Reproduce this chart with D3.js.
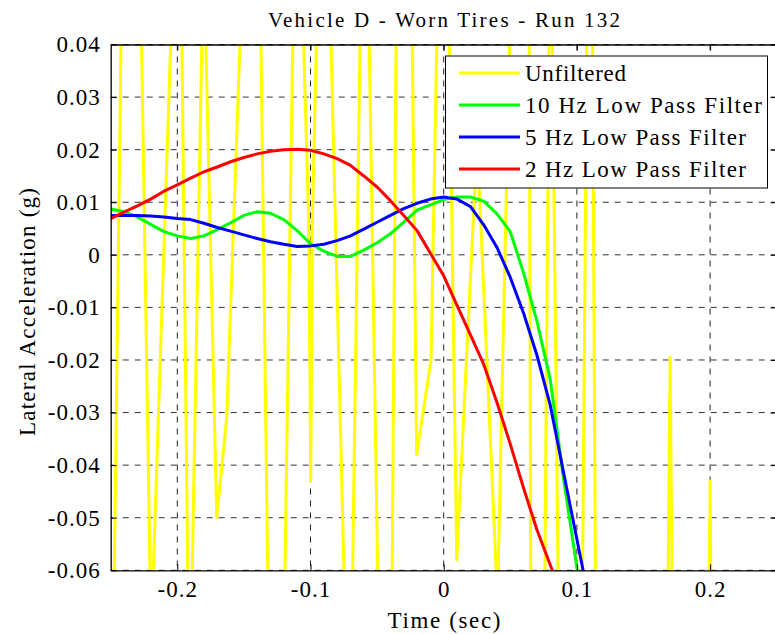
<!DOCTYPE html>
<html>
<head>
<meta charset="utf-8">
<script src="https://cdn.jsdelivr.net/npm/d3@7/dist/d3.min.js"></script>
<style>
body { margin: 0; background: #fff; }
text { font-family: "Liberation Serif", "Times New Roman", serif; fill: #000; }
</style>
</head>
<body>
<div id="the_chart"></div>
<script>
// filtered signals, sampled every 0.01 s
const filterTime = [-0.25,-0.24,-0.23,-0.22,-0.21,-0.20,-0.19,-0.18,-0.17,-0.16,-0.15,-0.14,-0.13,-0.12,-0.11,-0.10,-0.09,-0.08,-0.07,-0.06,-0.05,-0.04,-0.03,-0.02,-0.01,0.00,0.01,0.02,0.03,0.04,0.05,0.06,0.07,0.08,0.09,0.10,0.11];
const lp10 = [0.0087,0.0082,0.0072,0.0058,0.0044,0.0036,0.0031,0.0036,0.0048,0.0061,0.0075,0.0082,0.0079,0.0067,0.0046,0.0021,0.0007,-0.0003,-0.0003,0.0009,0.0023,0.0040,0.0062,0.0085,0.0095,0.0105,0.0110,0.0110,0.0102,0.0078,0.0044,-0.0035,-0.0126,-0.0237,-0.0426,-0.0595,-0.0760];
const lp5 = [0.0075,0.0075,0.0075,0.0074,0.0072,0.0069,0.0067,0.0060,0.0052,0.0045,0.0038,0.0031,0.0025,0.0020,0.0016,0.0017,0.0020,0.0027,0.0036,0.0049,0.0062,0.0075,0.0088,0.0098,0.0106,0.0110,0.0106,0.0092,0.0057,0.0014,-0.0043,-0.0111,-0.0191,-0.0286,-0.0414,-0.0541,-0.0668];
const lp2 = [0.0069,0.0081,0.0093,0.0106,0.0121,0.0133,0.0146,0.0158,0.0167,0.0177,0.0185,0.0192,0.0197,0.0200,0.0201,0.0199,0.0192,0.0183,0.0170,0.0150,0.0129,0.0103,0.0075,0.0046,0.0003,-0.0040,-0.0096,-0.0152,-0.0208,-0.0281,-0.0360,-0.0444,-0.0523,-0.0590,-0.0657,-0.0720,-0.0790];

// unfiltered signal (peaks mostly run off the axes)
const rawTime = [-0.25,-0.2354,-0.2197,-0.1986,-0.1909,-0.1803,-0.1704,-0.1629,-0.1413,-0.1261,-0.1106,-0.1013,-0.0998,-0.0986,-0.0904,-0.0707,-0.0596,-0.0420,-0.0309,-0.0203,-0.0095,0.0000,0.0098,0.0251,0.0404,0.0626,0.0681,0.0801,0.0964,0.1101,0.12,0.13,0.14,0.15,0.16,0.17,0.18,0.19,0.20,0.21,0.22,0.23,0.24,0.25];
const rawVal = [-0.114,0.177,-0.073,0.089,-0.090,0.059,-0.050,-0.031,0.123,-0.181,0.088,0.006,-0.043,0.006,0.100,-0.103,0.099,-0.180,0.215,-0.038,-0.020,0.114,-0.058,0.0217,-0.066,0.194,-0.320,0.075,-0.309,0.123,-0.360,-0.330,-0.290,-0.310,-0.300,-0.0195,-0.320,-0.350,-0.043,-0.380,-0.330,-0.300,-0.310,-0.280];

const seriesNames = ["Unfiltered", "10 Hz Low Pass Filter", "5 Hz Low Pass Filter", "2 Hz Low Pass Filter"];
const seriesColors = ["#ffff00", "#00ff00", "#0000ff", "#ff0000"];

const xTicks = [-0.2, -0.1, 0, 0.1, 0.2];
const xTickLabels = ["-0.2", "-0.1", "0", "0.1", "0.2"];
const yTicks = [-0.06, -0.05, -0.04, -0.03, -0.02, -0.01, 0, 0.01, 0.02, 0.03, 0.04];
const yTickLabels = ["-0.06", "-0.05", "-0.04", "-0.03", "-0.02", "-0.01", "0", "0.01", "0.02", "0.03", "0.04"];

var w = 775, h = 634;
var padLeft = 110.7, padRight = 776.7, padTop = 44.5, padBottom = 570.3;

var xscale = d3.scaleLinear().domain([-0.25, 0.25]).range([padLeft, padRight]);
var yscale = d3.scaleLinear().domain([-0.06, 0.04]).range([padBottom, padTop]);

var svg = d3.select("#the_chart").append("svg")
    .attr("width", w)
    .attr("height", h);

svg.append("defs").append("clipPath").attr("id", "plotclip")
    .append("rect")
    .attr("x", padLeft).attr("y", padTop)
    .attr("width", padRight - padLeft).attr("height", padBottom - padTop);

// grid
svg.append("g").selectAll("line")
    .data(xTicks).enter().append("line")
    .attr("x1", d => xscale(d)).attr("x2", d => xscale(d))
    .attr("y1", padTop).attr("y2", padBottom)
    .attr("stroke", "#222").attr("stroke-width", 1)
    .attr("stroke-dasharray", "6,6");
svg.append("g").selectAll("line")
    .data(yTicks).enter().append("line")
    .attr("x1", padLeft).attr("x2", padRight)
    .attr("y1", d => yscale(d)).attr("y2", d => yscale(d))
    .attr("stroke", "#333").attr("stroke-width", 1)
    .attr("stroke-dasharray", "6,6");

// data lines
var plot = svg.append("g").attr("clip-path", "url(#plotclip)");
var line = d3.line().x(d => xscale(d[0])).y(d => yscale(d[1]));

var seriesData = [
    d3.zip(rawTime, rawVal),
    d3.zip(filterTime, lp10),
    d3.zip(filterTime, lp5),
    d3.zip(filterTime, lp2)
];

plot.selectAll("path")
    .data(seriesData)
    .enter().append("path")
    .attr("d", line)
    .attr("fill", "none")
    .attr("stroke", (d, i) => seriesColors[i])
    .attr("stroke-width", 3)
    .attr("stroke-linejoin", "round");

// axes box + ticks
var xaxisB = d3.axisBottom(xscale).tickValues(xTicks).tickSizeInner(-6).tickSizeOuter(0)
    .tickPadding(10).tickFormat((d, i) => xTickLabels[i]);
var gx = svg.append("g").attr("transform", "translate(0," + padBottom + ")").call(xaxisB);
var yaxisL = d3.axisLeft(yscale).tickValues(yTicks).tickSizeInner(-6).tickSizeOuter(0)
    .tickPadding(10).tickFormat((d, i) => yTickLabels[i]);
var gy = svg.append("g").attr("transform", "translate(" + padLeft + ",0)").call(yaxisL);
svg.append("g").attr("transform", "translate(0," + padTop + ")")
    .call(d3.axisTop(xscale).tickValues(xTicks).tickSizeInner(-6).tickSizeOuter(0).tickFormat(""));
svg.append("g").attr("transform", "translate(" + padRight + ",0)")
    .call(d3.axisRight(yscale).tickValues(yTicks).tickSizeInner(-6).tickSizeOuter(0).tickFormat(""));

svg.selectAll(".domain").attr("stroke", "#000").attr("stroke-width", 1.3);
svg.selectAll(".tick line").attr("stroke", "#000");
svg.selectAll(".tick text")
    .style("font-family", "'Liberation Serif', 'Times New Roman', serif")
    .style("font-size", "23px")
    .style("letter-spacing", "1px")
    .attr("fill", "#000");
gx.selectAll(".tick text").attr("dy", "0.71em");

// title and labels
svg.append("text")
    .attr("x", 444).attr("y", 27)
    .attr("text-anchor", "middle")
    .attr("textLength", 352).attr("lengthAdjust", "spacing")
    .style("font-size", "21px")
    .text("Vehicle D - Worn Tires - Run 132");

svg.append("text")
    .attr("x", 444).attr("y", 628)
    .attr("text-anchor", "middle")
    .attr("textLength", 113).attr("lengthAdjust", "spacing")
    .style("font-size", "23px")
    .text("Time (sec)");

svg.append("text")
    .attr("transform", "translate(35,312) rotate(-90)")
    .attr("text-anchor", "middle")
    .attr("textLength", 248).attr("lengthAdjust", "spacing")
    .style("font-size", "23px")
    .text("Lateral Acceleration (g)");

// legend
var legendWidths = [101, 237, 221, 221];
var legend = svg.append("g");
legend.append("rect")
    .attr("x", 445.5).attr("y", 56)
    .attr("width", 322).attr("height", 132)
    .attr("fill", "#fff").attr("stroke", "#000").attr("stroke-width", 1);

var rowY = d3.scaleLinear().domain([0, 3]).range([73, 169]);
var items = legend.selectAll("g.item")
    .data(seriesNames).enter().append("g").attr("class", "item");
items.append("line")
    .attr("x1", 459).attr("x2", 520)
    .attr("y1", (d, i) => rowY(i)).attr("y2", (d, i) => rowY(i))
    .attr("stroke", (d, i) => seriesColors[i])
    .attr("stroke-width", 3);
items.append("text")
    .attr("x", 525).attr("y", (d, i) => rowY(i) + 8)
    .attr("textLength", (d, i) => legendWidths[i]).attr("lengthAdjust", "spacing")
    .style("font-size", "23px")
    .text(d => d);
</script>
</body>
</html>
